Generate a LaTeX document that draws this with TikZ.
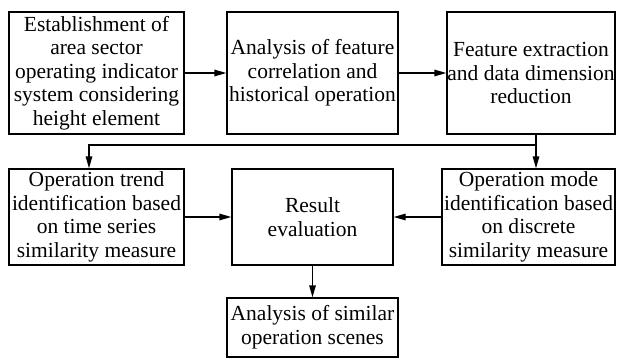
\documentclass[tikz,border=0pt]{standalone}
\usepackage{fontspec}
\setmainfont{Liberation Serif}
\usetikzlibrary{arrows.meta}
\tikzset{
  box/.style={draw, line width=1.3pt, rectangle, inner sep=0pt, align=center,
    font=\fontsize{21.5}{23.6}\selectfont},
  link/.style={line width=1.3pt, -{Triangle[length=12pt,width=6.5pt]}},
  plain/.style={line width=1.3pt}
}
\begin{document}
\begin{tikzpicture}[x=1pt,y=-1pt]
  \useasboundingbox (0,0) rectangle (617,358);

  % top row
  \node[box, minimum width=175pt, minimum height=122pt] (b1) at (96.5,73)
    {Establishment of\\area sector\\operating indicator\\system considering\\height element};
  \node[box, minimum width=171pt, minimum height=122pt] (b2) at (312.5,73)
    {Analysis of feature\\correlation and\\historical operation};
  \node[box, minimum width=168pt, minimum height=122pt] (b3) at (531,73)
    {Feature extraction\\and data dimension\\reduction};

  % middle row
  \node[box, minimum width=175pt, minimum height=96pt] (b4) at (96.5,217)
    {Operation trend\\identification based\\on time series\\similarity measure};
  \node[box, minimum width=161pt, minimum height=96pt] (b5) at (312.5,217)
    {Result\\evaluation};
  \node[box, minimum width=173pt, minimum height=96pt] (b6) at (528.5,217)
    {Operation mode\\identification based\\on discrete\\similarity measure};

  % bottom
  \node[box, minimum width=171pt, minimum height=59pt] (b7) at (312.5,327.5)
    {Analysis of similar\\operation scenes};

  % branching points
  \coordinate (split) at (536,145);
  \coordinate (lsplit) at (89,145);

  \draw[link] (b1.east) -- (b2.west);
  \draw[link] (b2.east) -- (b3.west);
  \draw[plain] (b3.south -| split) -- (split);
  \draw[link] (split) -- (lsplit) -- (lsplit |- b4.north);
  \draw[link] (split) -- (split |- b6.north);
  \draw[link] (b4.east) -- (b4.east -| b5.west);
  \draw[link] (b6.west) -- (b6.west -| b5.east);
  \draw[link] (b5.south) -- (b7.north);
\end{tikzpicture}
\end{document}
